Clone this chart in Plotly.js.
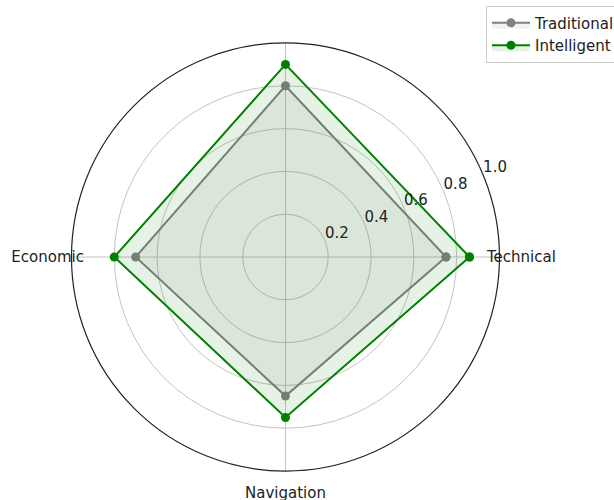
<!DOCTYPE html>
<html>
<head>
<meta charset="utf-8">
<script src="https://cdn.plot.ly/plotly-3.0.1.min.js"></script>
<style>html,body{margin:0;padding:0;background:#fff;}#chart{width:614px;height:500px;}</style>
</head>
<body>
<div id="chart"></div>
<script>
// Data
var categoryAngles = [0, 90, 180, 270];
var categoryLabels = ['Technical', '', 'Economic', 'Navigation'];
var traditional = [0.75, 0.80, 0.70, 0.65];
var intelligent = [0.86, 0.90, 0.80, 0.75];
var radialTicks = [0.2, 0.4, 0.6, 0.8, 1.0];
var radialTickLabels = ['0.2', '0.4', '0.6', '0.8', '1.0'];

function closeLoop(a) { return a.concat([a[0]]); }
function pick(arr, idx) { return idx.map(function (i) { return arr[i]; }); }

var font = 'DejaVu Sans, sans-serif';
var txt = '#222';
var clear = 'rgba(0,0,0,0)';

var traces = [
  {
    type: 'scatterpolar', mode: 'lines+markers', name: 'Traditional',
    r: closeLoop(traditional), theta: closeLoop(categoryAngles),
    line: {color: '#808080', width: 2}, marker: {color: '#808080', size: 9},
    fill: 'toself', fillcolor: 'rgba(128,128,128,0.1)'
  },
  {
    type: 'scatterpolar', mode: 'lines+markers', name: 'Intelligent',
    r: closeLoop(intelligent), theta: closeLoop(categoryAngles),
    line: {color: '#008000', width: 2}, marker: {color: '#008000', size: 9},
    fill: 'toself', fillcolor: 'rgba(0,128,0,0.1)'
  },
  // empty carriers for the label-only subplots
  {type: 'scatterpolar', r: [], theta: [], subplot: 'polar2', showlegend: false, hoverinfo: 'skip'},
  {type: 'scatterpolar', r: [], theta: [], subplot: 'polar3', showlegend: false, hoverinfo: 'skip'},
  {type: 'scatterpolar', r: [], theta: [], subplot: 'polar4', showlegend: false, hoverinfo: 'skip'}
];

function hiddenRadial() { return {visible: false, range: [0, 1]}; }

function labelAngular(idx) {
  return {
    direction: 'counterclockwise', rotation: 0,
    tickmode: 'array', tickvals: pick(categoryAngles, idx), ticktext: pick(categoryLabels, idx),
    showline: false, showgrid: false, ticks: '',
    tickfont: {family: font, size: 15, color: txt}
  };
}

var layout = {
  width: 614, height: 500,
  margin: {l: 0, r: 0, t: 0, b: 0, autoexpand: false},
  paper_bgcolor: '#ffffff',
  font: {family: font, size: 15, color: txt},
  showlegend: true,
  legend: {
    x: 0.7915, y: 0.989, xanchor: 'left', yanchor: 'top',
    bgcolor: '#ffffff', bordercolor: '#cccccc', borderwidth: 1,
    itemwidth: 38,
    font: {family: font, size: 15, color: txt}
  },
  // main chart
  polar: {
    domain: {x: [0.1164, 0.8135], y: [0.058, 0.914]},
    bgcolor: '#ffffff',
    gridshape: 'circular',
    angularaxis: {
      direction: 'counterclockwise', rotation: 0,
      tickmode: 'array', tickvals: categoryAngles, ticktext: categoryLabels,
      showticklabels: false,
      showline: true, linecolor: '#222', linewidth: 1.2,
      showgrid: true, gridcolor: '#c4c4c4', gridwidth: 1,
      ticks: ''
    },
    radialaxis: {
      range: [0, 1], angle: 22.5,
      tickmode: 'array', tickvals: radialTicks,
      showticklabels: false,
      showline: false, ticks: '',
      showgrid: true, gridcolor: '#c4c4c4', gridwidth: 1
    }
  },
  // radial tick labels (same scale, offset like matplotlib's label placement)
  polar2: {
    domain: {x: [0.1620, 0.8591], y: [0.058, 0.914]},
    bgcolor: clear,
    angularaxis: {visible: false},
    radialaxis: {
      range: [0, 1], angle: 22.5, tickangle: 22.5, side: 'counterclockwise',
      tickmode: 'array', tickvals: radialTicks, ticktext: radialTickLabels,
      showline: false, showgrid: false, ticks: '',
      tickfont: {family: font, size: 15, color: txt}
    }
  },
  // horizontal category labels
  polar3: {
    domain: {x: [0.1376, 0.7923], y: [0.084, 0.888]},
    bgcolor: clear,
    angularaxis: labelAngular([0, 2]),
    radialaxis: hiddenRadial()
  },
  // bottom category label
  polar4: {
    domain: {x: [0.0985, 0.8314], y: [0.036, 0.936]},
    bgcolor: clear,
    angularaxis: labelAngular([3]),
    radialaxis: hiddenRadial()
  }
};

Plotly.newPlot('chart', traces, layout, {displayModeBar: false, staticPlot: true});
</script>
</body>
</html>
